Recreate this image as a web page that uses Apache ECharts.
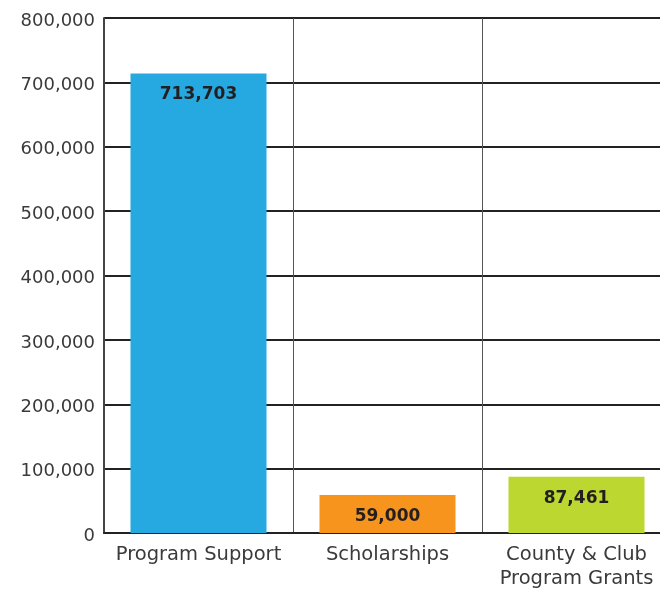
<!DOCTYPE html>
<html>
<head>
<meta charset="utf-8">
<script src="https://cdn.jsdelivr.net/npm/echarts@6/dist/echarts.min.js"></script>
<style>html,body{margin:0;padding:0;background:#fff;}#c{width:660px;height:589px;}</style>
</head>
<body>
<div id="c"></div>
<script>
const categories = ['Program Support', 'Scholarships', 'County & Club\nProgram Grants'];
const values = [713703, 59000, 87461];
const colors = ['#25A9E0', '#F7941D', '#BCD830'];
const yTicks = [0, 100000, 200000, 300000, 400000, 500000, 600000, 700000, 800000];

const fmt = v => v.toLocaleString('en-US');
const chart = echarts.init(document.getElementById('c'), null, {renderer: 'canvas'});
chart.setOption({
  animation: false,
  grid: {left: 104, top: 18, right: -11, bottom: 56, containLabel: false, outerBoundsMode: 'none'},
  xAxis: {
    type: 'category',
    data: categories,
    axisLine: {show: true, lineStyle: {color: '#222', width: 2}},
    axisTick: {show: false},
    splitLine: {show: true, lineStyle: {color: '#555', width: 1}},
    axisLabel: {color: '#3a3a3a', fontSize: 19.5, fontFamily: 'DejaVu Sans', margin: 10, lineHeight: 24, interval: 0}
  },
  yAxis: {
    type: 'value',
    min: yTicks[0], max: yTicks[yTicks.length - 1], interval: 100000,
    axisLine: {show: true, lineStyle: {color: '#444', width: 2}},
    axisTick: {show: false},
    splitLine: {show: true, lineStyle: {color: '#222', width: 2}},
    axisLabel: {
      color: '#3a3a3a', fontSize: 18, fontFamily: 'DejaVu Sans', margin: 9,
      formatter: v => '{a|' + fmt(v) + '}',
      rich: {a: {color: '#3a3a3a', fontSize: 18, fontFamily: 'DejaVu Sans', padding: [6, 0, 0, 0]}}
    }
  },
  series: [{
    type: 'bar',
    barWidth: 136,
    data: values.map((v, i) => ({value: v, itemStyle: {color: colors[i]}})),
    label: {show: true, position: 'insideTop', distance: 13, color: '#231f20', fontWeight: 'bold', fontSize: 17, fontFamily: 'DejaVu Sans', formatter: p => fmt(p.value)}
  }]
});
</script>
</body>
</html>
